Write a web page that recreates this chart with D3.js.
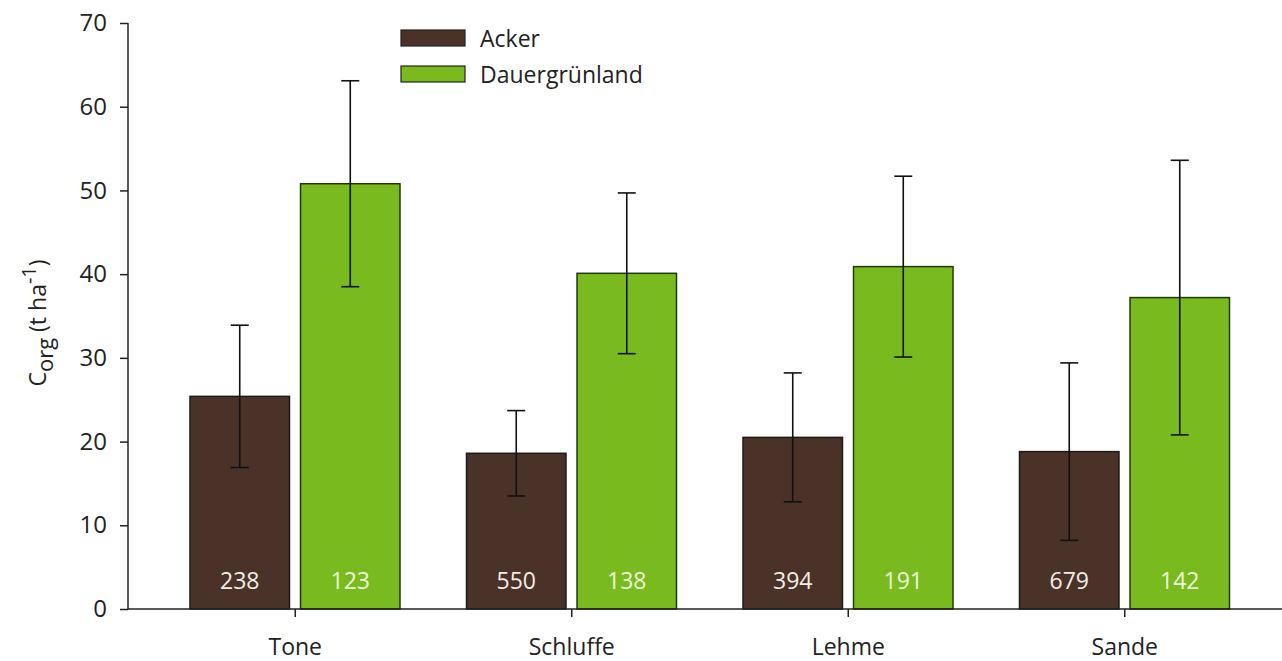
<!DOCTYPE html>
<html><head><meta charset="utf-8">
<script src="https://cdn.jsdelivr.net/npm/d3@7"></script>
<style>body{margin:0;background:#fff}svg{display:block}text{font-family:"Open Sans",sans-serif}</style>
</head><body><svg id="c" width="1282" height="661"></svg>
<script>
const categories = ["Tone", "Schluffe", "Lehme", "Sande"];
const seriesNames = ["Acker", "Dauergrünland"];
const ackerMean = [25.4, 18.6, 20.5, 18.8];
const ackerErr = [8.5, 5.1, 7.7, 10.6];
const gruenMean = [50.8, 40.1, 40.9, 37.2];
const gruenErr = [12.3, 9.6, 10.8, 16.4];
const ackerN = [238, 550, 394, 679];
const gruenN = [123, 138, 191, 142];
const yTicks = [0, 10, 20, 30, 40, 50, 60, 70];

const colors = {"Acker": "#4b3228", "Dauergrünland": "#79bb1f"};
const svg = d3.select("#c");

const y = d3.scaleLinear().domain([0, 70]).range([609, 23]);
const x0 = d3.scaleBand().domain(categories).range([157, 1263]);
const x1 = d3.scaleBand().domain(seriesNames).range([33, 243]).paddingInner(0.1);

const rows = [];
categories.forEach((c, i) => {
  rows.push({cat: c, s: "Acker", v: ackerMean[i], e: ackerErr[i], n: ackerN[i]});
  rows.push({cat: c, s: "Dauergrünland", v: gruenMean[i], e: gruenErr[i], n: gruenN[i]});
});

// bars
svg.append("g").selectAll("rect").data(rows).join("rect")
  .attr("x", d => x0(d.cat) + x1(d.s))
  .attr("y", d => y(d.v))
  .attr("width", x1.bandwidth())
  .attr("height", d => y(0) - y(d.v))
  .attr("fill", d => colors[d.s])
  .attr("stroke", d => d.s === "Acker" ? "#1a1a1a" : "#1f3a0a")
  .attr("stroke-width", 1.5);

// error bars
const eg = svg.append("g").attr("stroke", "#111").attr("stroke-width", 1.6);
rows.forEach(d => {
  const cx = x0(d.cat) + x1(d.s) + x1.bandwidth() / 2;
  eg.append("line").attr("x1", cx).attr("x2", cx).attr("y1", y(d.v + d.e)).attr("y2", y(d.v - d.e));
  eg.append("line").attr("x1", cx - 9).attr("x2", cx + 9).attr("y1", y(d.v + d.e)).attr("y2", y(d.v + d.e));
  eg.append("line").attr("x1", cx - 9).attr("x2", cx + 9).attr("y1", y(d.v - d.e)).attr("y2", y(d.v - d.e));
});

// n labels
svg.append("g").selectAll("text").data(rows).join("text")
  .attr("x", d => x0(d.cat) + x1(d.s) + x1.bandwidth() / 2)
  .attr("y", 589)
  .attr("text-anchor", "middle")
  .attr("font-size", 23)
  .attr("fill", d => d.s === "Acker" ? "#f3ede6" : "#eef7dc")
  .text(d => d.n);

// y axis
const yAxis = d3.axisLeft(y).tickValues(yTicks).tickSize(8).tickPadding(13);
const yg = svg.append("g").attr("transform", "translate(128,0)").call(yAxis);
yg.select(".domain").attr("stroke", "#222").attr("stroke-width", 1.5).attr("d", "M0,23V609");
yg.selectAll(".tick line").attr("stroke", "#222").attr("stroke-width", 1.5);
yg.selectAll(".tick text").attr("font-size", 24).attr("fill", "#222").attr("font-family", "'Open Sans',sans-serif");

// x axis
const xAxis = d3.axisBottom(x0).tickSize(8).tickPadding(22);
const xg = svg.append("g").attr("transform", "translate(0,609)").call(xAxis);
xg.select(".domain").attr("d", "M128,0H1282").attr("stroke", "#222").attr("stroke-width", 1.5);
xg.selectAll(".tick line").attr("stroke", "#222").attr("stroke-width", 1.5);
xg.selectAll(".tick text").attr("font-size", 23).attr("fill", "#222").attr("font-family", "'Open Sans',sans-serif");

// y label
const yl = svg.append("text").attr("transform", "translate(46,323) rotate(-90)")
  .attr("text-anchor", "middle").attr("font-size", 23).attr("fill", "#222");
yl.append("tspan").text("C");
yl.append("tspan").attr("dy", 7).attr("font-size", 22).text("org");
yl.append("tspan").attr("dy", -7).text(" (t ha");
yl.append("tspan").attr("dy", -10).attr("font-size", 20).text("-1");
yl.append("tspan").attr("dy", 10).text(")");

// legend
const lg = svg.append("g");
seriesNames.forEach((s, i) => {
  const yy = 30 + i * 36;
  lg.append("rect").attr("x", 401).attr("y", yy).attr("width", 64).attr("height", 16)
    .attr("fill", colors[s]).attr("stroke", "#222").attr("stroke-width", 1.2);
  lg.append("text").attr("x", 480).attr("y", yy + 17).attr("font-size", 23).attr("fill", "#222").text(s);
});
</script></body></html>
